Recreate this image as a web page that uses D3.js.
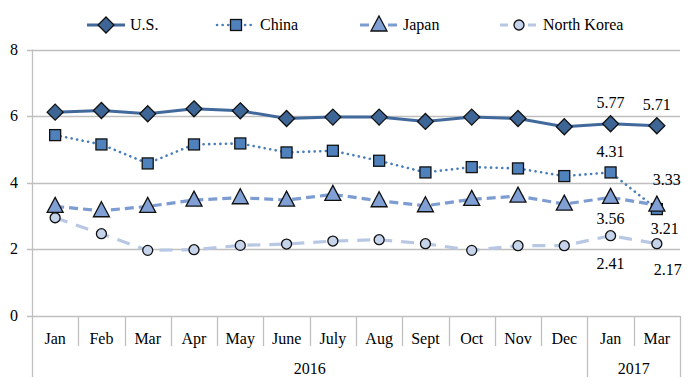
<!DOCTYPE html>
<html>
<head>
<meta charset="utf-8">
<script src="https://cdn.jsdelivr.net/npm/d3@7"></script>
<style>
  body { margin: 0; background: #fff; }
</style>
</head>
<body>
<svg id="chart" width="700" height="386"></svg>
<script>
const months = ["Jan","Feb","Mar","Apr","May","June","July","Aug","Sept","Oct","Nov","Dec","Jan","Mar"];
const years = [{label: "2016", from: 0, to: 12}, {label: "2017", from: 12, to: 14}];
const usVals = [6.12,6.17,6.07,6.22,6.16,5.93,5.97,5.97,5.84,5.97,5.93,5.68,5.77,5.71];
const chinaVals = [5.43,5.15,4.58,5.15,5.18,4.91,4.96,4.66,4.31,4.47,4.43,4.20,4.31,3.21];
const japanVals = [3.29,3.16,3.29,3.48,3.55,3.48,3.65,3.46,3.31,3.50,3.60,3.36,3.56,3.33];
const nkVals = [2.95,2.47,1.97,1.99,2.12,2.16,2.25,2.29,2.17,1.97,2.11,2.11,2.41,2.17];
const yTicks = [0,2,4,6,8];

// which points carry value labels: [series index, point index, dx, dy]
const labelSpots = [[0,12,0,-21],[0,13,0,-21],[1,12,0,-20],[1,13,8,20],[2,12,0,22],[2,13,10,-25],[3,12,0,28],[3,13,11,26]];

const series = [
  {name: "U.S.", vals: usVals, color: "#41699c", fill: "#3d6696", width: 3, dash: null, marker: "diamond"},
  {name: "China", vals: chinaVals, color: "#4a7ebb", fill: "#4f81bd", width: 2.6, dash: "0.1 5.5", marker: "square"},
  {name: "Japan", vals: japanVals, color: "#7d9dd2", fill: "#7f9fd5", width: 3.2, dash: "9 5", marker: "triangle"},
  {name: "North Korea", vals: nkVals, color: "#b8c8e4", fill: "#c6d4eb", width: 3.2, dash: "13 9", marker: "circle"}
];

const svg = d3.select("#chart");
const font = "Liberation Serif";
const fs = 16;
const margin = {left: 32, right: 20, top: 50, bottom: 70};
const W = 700, H = 386;

const x = d3.scaleBand().domain(d3.range(months.length)).range([margin.left, W - margin.right]);
const y = d3.scaleLinear().domain([0, 8]).range([316, 49.5]);
const cx = i => x(i) + x.bandwidth() / 2;

// gridlines
svg.append("g").selectAll("line").data(yTicks).join("line")
  .attr("x1", margin.left - 5).attr("x2", W - margin.right)
  .attr("y1", d => Math.round(y(d)) + 0.5).attr("y2", d => Math.round(y(d)) + 0.5)
  .attr("stroke", "#bfbfbf").attr("stroke-width", 1.3);

svg.append("g").selectAll("text").data(yTicks).join("text")
  .attr("x", 18).attr("y", d => y(d) + 5)
  .attr("text-anchor", "end")
  .attr("font-family", font).attr("font-size", fs)
  .text(d => d);

// y axis line
svg.append("line")
  .attr("x1", margin.left + 0.5).attr("x2", margin.left + 0.5)
  .attr("y1", y(8)).attr("y2", 377)
  .attr("stroke", "#bfbfbf").attr("stroke-width", 1.3);

// month separators
svg.append("g").selectAll("line").data(d3.range(1, months.length)).join("line")
  .attr("x1", i => Math.round(x(i)) + 0.5).attr("x2", i => Math.round(x(i)) + 0.5)
  .attr("y1", y(0)).attr("y2", i => (i === 12 ? 377 : 346))
  .attr("stroke", "#bfbfbf").attr("stroke-width", 1.3);
svg.append("line")
  .attr("x1", W - margin.right + 0.5).attr("x2", W - margin.right + 0.5)
  .attr("y1", y(0)).attr("y2", 377)
  .attr("stroke", "#bfbfbf").attr("stroke-width", 1.3);

svg.append("g").selectAll("text").data(months).join("text")
  .attr("x", (d, i) => cx(i)).attr("y", 344)
  .attr("text-anchor", "middle")
  .attr("font-family", font).attr("font-size", fs)
  .text(d => d);

svg.append("g").selectAll("text").data(years).join("text")
  .attr("x", d => (x(d.from) + (d.to < months.length ? x(d.to) : W - margin.right)) / 2)
  .attr("y", 374)
  .attr("text-anchor", "middle")
  .attr("font-family", font).attr("font-size", fs)
  .text(d => d.label);

// markers
function drawMarker(g, type, fill, px, py) {
  if (type === "diamond") {
    g.append("path").attr("d", `M${px},${py - 8}L${px + 8},${py}L${px},${py + 8}L${px - 8},${py}Z`)
      .attr("fill", fill).attr("stroke", "#111").attr("stroke-width", 1.3);
  } else if (type === "square") {
    g.append("rect").attr("x", px - 5.5).attr("y", py - 5.5).attr("width", 11).attr("height", 11)
      .attr("fill", fill).attr("stroke", "#111").attr("stroke-width", 1.3);
  } else if (type === "triangle") {
    g.append("path").attr("d", `M${px},${py - 9}L${px + 8},${py + 6}L${px - 8},${py + 6}Z`)
      .attr("fill", fill).attr("stroke", "#111").attr("stroke-width", 1.3);
  } else {
    g.append("circle").attr("cx", px).attr("cy", py).attr("r", 5)
      .attr("fill", fill).attr("stroke", "#111").attr("stroke-width", 1.3);
  }
}

const line = d3.line().x((d, i) => cx(i)).y(d => y(d));

series.forEach(s => {
  const g = svg.append("g");
  g.append("path").attr("d", line(s.vals))
    .attr("fill", "none").attr("stroke", s.color).attr("stroke-width", s.width)
    .attr("stroke-dasharray", s.dash)
    .attr("stroke-linecap", s.marker === "square" ? "round" : "butt");
  s.vals.forEach((v, i) => drawMarker(g, s.marker, s.fill, cx(i), y(v)));
});

// value labels
svg.append("g").selectAll("text").data(labelSpots).join("text")
  .attr("x", d => cx(d[1]) + d[2]).attr("y", d => y(series[d[0]].vals[d[1]]) + d[3] + 5)
  .attr("text-anchor", "middle")
  .attr("font-family", font).attr("font-size", fs)
  .text(d => series[d[0]].vals[d[1]].toFixed(2));

// legend
const legendX = [87, 217, 360, 500];
const legend = svg.append("g");
series.forEach((s, k) => {
  const lx = legendX[k], ly = 25;
  legend.append("line").attr("x1", lx).attr("x2", lx + 38).attr("y1", ly).attr("y2", ly)
    .attr("stroke", s.color).attr("stroke-width", s.width)
    .attr("stroke-dasharray", s.marker === "circle" ? "8 6" : s.dash)
    .attr("stroke-linecap", s.marker === "square" ? "round" : "butt");
  drawMarker(legend, s.marker, s.fill, lx + 19, ly);
  legend.append("text").attr("x", lx + 43).attr("y", ly + 5)
    .attr("font-family", font).attr("font-size", fs)
    .text(s.name);
});
</script>
</body>
</html>
